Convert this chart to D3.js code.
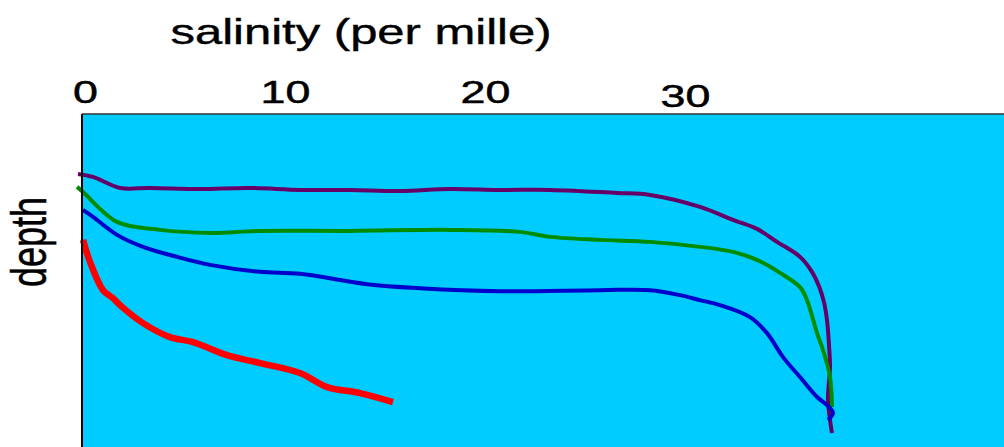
<!DOCTYPE html>
<html>
<head>
<meta charset="utf-8">
<script src="https://cdn.jsdelivr.net/npm/d3@7"></script>
<style>
  html, body { margin: 0; padding: 0; background: #ffffff; }
  svg { display: block; }
  text { font-family: "Liberation Sans", Arial, sans-serif; fill: #000; }
</style>
</head>
<body>
<svg id="chart" width="1004" height="447"></svg>
<script>
// ---- data ----
const xTickValues = [0, 10, 20, 30];
const xTitle = "salinity (per mille)";
const yTitle = "depth";

const seriesNames = ["purple", "green", "blue", "red"];
const seriesColors = ["#660066", "#008C00", "#0000CC", "#FF0000"];

// [salinity, depth] (depth in arbitrary units 0-100)
const purpleProfile = [
  [-0.35, 18.0], [0.4, 18.9], [1.75, 22.2], [3.25, 22.2], [5.75, 22.5], [8.25, 22.2],
  [10.75, 22.8], [13.25, 22.8], [15.75, 23.1], [18.25, 22.5], [20.75, 22.8], [23.25, 22.8],
  [26.6, 23.7], [28.25, 24.3], [30.75, 27.9], [32.4, 31.8], [33.6, 34.5], [34.6, 38.4],
  [35.75, 42.9], [36.35, 47.4], [36.7, 51.7], [36.95, 56.5], [37.1, 61.9], [37.2, 69.4],
  [37.25, 76.0], [37.15, 85.9], [37.35, 95.8]
];
const greenProfile = [
  [-0.4, 21.9], [-0.1, 23.4], [1.6, 32.4], [3.75, 34.8], [6.25, 35.7], [8.75, 35.1],
  [13.25, 35.1], [18.25, 34.8], [21.75, 35.4], [23.25, 36.9], [25.75, 37.8], [28.25, 38.4],
  [30.75, 39.9], [32.4, 41.4], [33.6, 43.8], [34.75, 47.7], [35.75, 52.0], [36.1, 55.9],
  [36.6, 65.8], [36.9, 70.9], [37.25, 79.0], [37.35, 88.0]
];
const blueProfile = [
  [-0.1, 28.8], [0.4, 30.9], [1.6, 36.3], [2.9, 39.9], [4.6, 42.9], [6.25, 45.3],
  [8.75, 47.4], [10.75, 48.0], [14.1, 51.1], [16.75, 52.3], [20.75, 53.2], [25.75, 52.9],
  [28.25, 52.9], [29.75, 54.4], [30.75, 55.9], [31.75, 57.4], [33.25, 61.0], [34.1, 65.8],
  [34.9, 73.0], [35.75, 79.0], [36.6, 85.0], [37.1, 87.4], [37.4, 89.8], [37.15, 91.9]
];
const redProfile = [
  [-0.1, 37.8], [0.25, 44.4], [0.9, 52.9], [1.4, 55.3], [1.75, 57.4], [2.9, 62.8],
  [4.25, 67.0], [5.4, 68.5], [7.1, 72.4], [8.75, 74.8], [10.75, 77.8], [12.1, 82.0],
  [13.75, 83.8], [15.4, 86.5]
];
const profiles = [purpleProfile, greenProfile, blueProfile, redProfile];

// ---- layout ----
const plot = { left: 82, top: 114, right: 1004, bottom: 447 };
const stretch = 1.4;

const svg = d3.select("#chart");

const x = d3.scaleLinear().domain([0, 30]).range([85, 685]);
const y = d3.scaleLinear().domain([0, 100]).range([plot.top, plot.bottom]);

// plot background
svg.append("rect")
  .attr("x", plot.left).attr("y", plot.top)
  .attr("width", plot.right - plot.left).attr("height", plot.bottom - plot.top)
  .attr("fill", "#00CCFF");

svg.append("defs").append("clipPath").attr("id", "clip")
  .append("rect")
  .attr("x", plot.left - 6).attr("y", plot.top + 1)
  .attr("width", plot.right - plot.left + 6).attr("height", plot.bottom - plot.top);

// lines
const line = d3.line()
  .x(d => x(d[0]))
  .y(d => y(d[1]))
  .curve(d3.curveCatmullRom.alpha(0.5));

const g = svg.append("g").attr("clip-path", "url(#clip)");
profiles.forEach((p, i) => {
  g.append("path")
    .datum(p)
    .attr("d", line)
    .attr("fill", "none")
    .attr("stroke", seriesColors[i])
    .attr("stroke-width", seriesNames[i] === "red" ? 6.5 : 4)
    .attr("stroke-linejoin", "round")
    .attr("stroke-linecap", "butt");
});

// borders (top & left)
svg.append("line")
  .attr("x1", plot.left).attr("x2", plot.right)
  .attr("y1", plot.top).attr("y2", plot.top)
  .attr("stroke", "#333").attr("stroke-width", 1.5);
svg.append("line")
  .attr("x1", plot.left).attr("x2", plot.left)
  .attr("y1", plot.top).attr("y2", plot.bottom)
  .attr("stroke", "#000").attr("stroke-width", 2);

// top axis labels (no tick marks)
const axis = d3.axisTop(x).tickValues(xTickValues).tickSize(0).tickPadding(0).tickFormat(d3.format("d"));
const ax = svg.append("g").attr("transform", "translate(0,103)").call(axis);
ax.select(".domain").remove();
ax.selectAll("text")
  .attr("y", d => d === 30 ? 4 : 0)
  .attr("dy", 0)
  .attr("font-size", 32)
  .attr("font-family", "Liberation Sans, Arial, sans-serif")
  .attr("fill", "#000")
  .attr("stroke", "#000")
  .attr("stroke-width", 0.5)
  .attr("text-anchor", "middle")
  .attr("transform", `scale(${stretch},1)`);

// title
svg.append("text")
  .attr("transform", `translate(361,44) scale(${stretch},1)`)
  .attr("text-anchor", "middle")
  .attr("font-size", 35)
  .attr("stroke", "#000")
  .attr("stroke-width", 0.4)
  .text(xTitle);

// depth label
svg.append("text")
  .attr("transform", `translate(46,242) scale(${stretch},1) rotate(-90)`)
  .attr("text-anchor", "middle")
  .attr("font-size", 36)
  .attr("stroke", "#000")
  .attr("stroke-width", 0.4)
  .text(yTitle);
</script>
</body>
</html>
